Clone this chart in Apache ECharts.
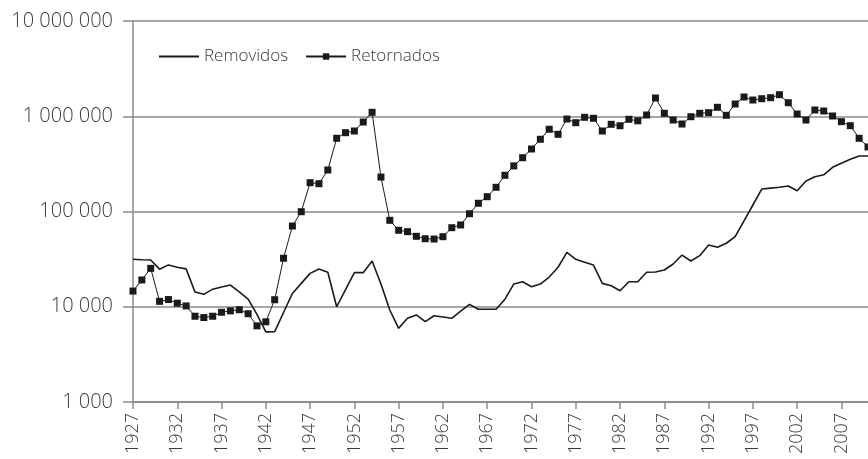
<!DOCTYPE html>
<html>
<head>
<meta charset="utf-8">
<script src="https://cdn.jsdelivr.net/npm/echarts@6/dist/echarts.min.js"></script>
<style>
    html, body {margin: 0; padding: 0; background: #fff;}
    #chart {width: 868px; height: 459px;}
</style>
</head>
<body>
<div id="chart"></div>
<script>
// years 1927..2010 (the last one falls just past the right edge)
const years = [];
for (let y = 1927; y <= 2010; y++) years.push(String(y));

const removidos = [
    31500, 31200, 31000, 24800, 27500, 26000, 25000, 14300, 13500, 15300,
    16100, 16900, 14300, 12000, 8300, 5450, 5470, 8700, 13800, 17600,
    22400, 24900, 23000, 10000, 15100, 22800, 22800, 30200, 17300, 9250,
    5940, 7560, 8200, 6970, 8050, 7800, 7560, 9000, 10600, 9400,
    9400, 9400, 12000, 17300, 18300, 16200, 17300, 20500, 26000, 37300,
    31500, 29400, 27400, 17600, 16600, 14700, 18300, 18300, 23000, 23200,
    24300, 28100, 34900, 30200, 34400, 44500, 42100, 46400, 54400, 79800,
    117000, 172000, 176000, 180000, 185000, 165000, 209000, 232000, 243000, 291000,
    321000, 353000, 383000, 383000,
];

const retornados = [
    14600, 19100, 25300, 11400, 11900, 10900, 10200, 7950, 7700, 7950,
    8750, 9050, 9300, 8450, 6300, 6950, 11850, 32300, 70400, 99500,
    200700, 195800, 272800, 587000, 672000, 700000, 870000, 1100000, 230000, 80800,
    63500, 61400, 54900, 51800, 51400, 54400, 67600, 72200, 94800, 122000,
    143000, 179500, 240000, 301000, 367000, 453000, 573000, 730000, 646000, 935000,
    856000, 975000, 952000, 700000, 823000, 795000, 929000, 895000, 1031000, 1555000,
    1074000, 913000, 829000, 989000, 1074000, 1090000, 1242000, 1023000, 1345000, 1592000,
    1481000, 1528000, 1566000, 1683000, 1387000, 1056000, 913000, 1163000, 1135000, 1006000,
    877000, 796000, 587000, 476000,
];

const seriesNames = ['Removidos', 'Retornados'];

const font = '"Open Sans", sans-serif';
const textColor = '#3a3a3a';
const gridColor = '#8a8a8a';

function spaced(v) {
    return String(Math.round(v)).replace(/\B(?=(\d{3})+(?!\d))/g, ' ');
}

const chart = echarts.init(document.getElementById('chart'));
chart.setOption({
    animation: false,
    backgroundColor: '#fff',
    textStyle: {fontFamily: font},
    legend: {
        top: 43,
        left: 153,
        itemWidth: 40,
        itemHeight: 8,
        itemGap: 17,
        textStyle: {
            color: textColor,
            fontSize: 17,
            fontWeight: 300,
            fontFamily: font,
        },
        data: [
            {name: seriesNames[0], itemStyle: {opacity: 0}},
            {name: seriesNames[1]},
        ],
    },
    grid: {
        top: 21,
        left: 133,
        width: 739,
        height: 381,
    },
    xAxis: {
        type: 'category',
        boundaryGap: false,
        data: years,
        axisLine: {lineStyle: {color: gridColor, width: 1.5}},
        axisTick: {
            interval: 4,
            length: 7,
            lineStyle: {color: gridColor, width: 1.5},
        },
        axisLabel: {
            interval: 4,
            rotate: 90,
            margin: 11,
            color: textColor,
            fontSize: 18,
            fontWeight: 300,
            fontFamily: font,
        },
        splitLine: {show: false},
    },
    yAxis: {
        type: 'log',
        logBase: 10,
        min: 1000,
        max: 10000000,
        axisLine: {show: true, lineStyle: {color: gridColor, width: 1.5}},
        axisTick: {
            show: true,
            length: 10,
            lineStyle: {color: gridColor, width: 1.5},
        },
        axisLabel: {
            margin: 20,
            color: textColor,
            fontSize: 20,
            fontWeight: 300,
            fontFamily: font,
            formatter: spaced,
        },
        splitLine: {lineStyle: {color: gridColor, width: 1.5}},
    },
    series: [
        {
            name: seriesNames[0],
            type: 'line',
            data: removidos,
            symbol: 'none',
            lineStyle: {color: '#1a1a1a', width: 1.6},
            itemStyle: {color: '#1a1a1a'},
        },
        {
            name: seriesNames[1],
            type: 'line',
            data: retornados,
            symbol: 'rect',
            symbolSize: 7,
            showAllSymbol: true,
            lineStyle: {color: '#1a1a1a', width: 1},
            itemStyle: {color: '#1a1a1a'},
        },
    ],
});
</script>
</body>
</html>
